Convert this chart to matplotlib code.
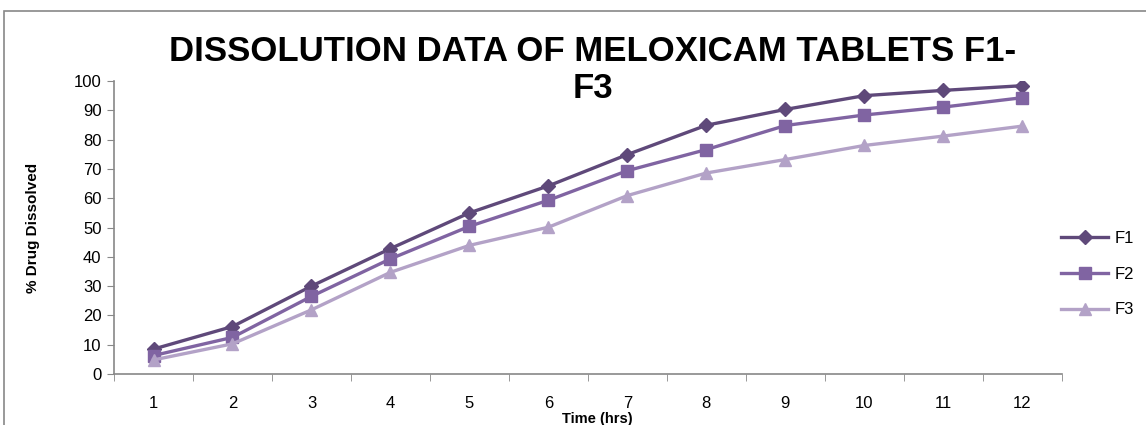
import matplotlib
matplotlib.use('Agg')
import matplotlib.pyplot as plt
from matplotlib.patches import Rectangle

plt.rcParams.update({'font.size': 12, 'font.family': ['Liberation Sans', 'DejaVu Sans']})

hours = [1, 2, 3, 4, 5, 6, 7, 8, 9, 10, 11, 12]
f1 = [8.5, 16.2, 30.0, 42.8, 55.0, 64.2, 74.9, 84.9, 90.3, 95.0, 96.8, 98.4]
f2 = [6.3, 12.5, 26.5, 39.3, 50.4, 59.3, 69.4, 76.6, 84.8, 88.4, 91.1, 94.3]
f3 = [4.8, 10.3, 21.9, 34.7, 43.9, 50.1, 60.9, 68.6, 73.2, 78.0, 81.2, 84.6]
series = {'F1': f1, 'F2': f2, 'F3': f3}
colors = ['#5F497A', '#8064A2', '#B3A2C7']
markers = ['D', 's', '^']
msizes = [7, 9, 9]

fig = plt.figure(figsize=(11.46, 4.25), dpi=100)
ax = fig.add_axes([0.0995, 0.12, 0.827, 0.6894])

# outer chart frame
fig.patches.append(Rectangle((0.0035, -0.2), 1.2, 1.174, transform=fig.transFigure,
                             fill=False, edgecolor='#888888', linewidth=1.2))

handles = []
for (name, vals), c, m, ms in zip(series.items(), colors, markers, msizes):
    h, = ax.plot(hours, vals, color=c, marker=m, markersize=ms, linewidth=2.4,
                 markeredgecolor=c, label=name)
    handles.append(h)

ax.set_xlim(0.5, 12.5)
ax.set_ylim(0, 100)
ax.set_yticks(range(0, 101, 10))
ax.set_xticks(hours)
ax.set_xticks([x + 0.5 for x in range(0, 13)], minor=True)
ax.tick_params(axis='x', which='major', length=0, pad=16, labelsize=12)
ax.tick_params(axis='x', which='minor', length=5, color='#888888')
ax.tick_params(axis='y', length=5, color='#888888', labelsize=12, pad=4)
for s in ['top', 'right']:
    ax.spines[s].set_visible(False)
for s in ['left', 'bottom']:
    ax.spines[s].set_color('#888888')
    ax.spines[s].set_linewidth(1.2)

ax.set_ylabel('% Drug Dissolved', fontsize=11, fontweight='bold')
ax.yaxis.set_label_coords(-0.078, 0.5)
ax.set_xlabel('Time (hrs)', fontsize=10.5, fontweight='bold')
ax.xaxis.set_label_coords(0.51, -0.128)

fig.text(0.517, 0.835, 'DISSOLUTION DATA OF MELOXICAM TABLETS F1-\nF3',
         ha='center', va='center', fontsize=25, fontweight='bold', linespacing=1.15)

fig.legend(handles=handles, loc='center left', bbox_to_anchor=(0.913, 0.355),
           frameon=False, labelspacing=1.25, handlelength=2.8, handletextpad=0.4,
           fontsize=12)

fig.savefig('out.png', dpi=100)
